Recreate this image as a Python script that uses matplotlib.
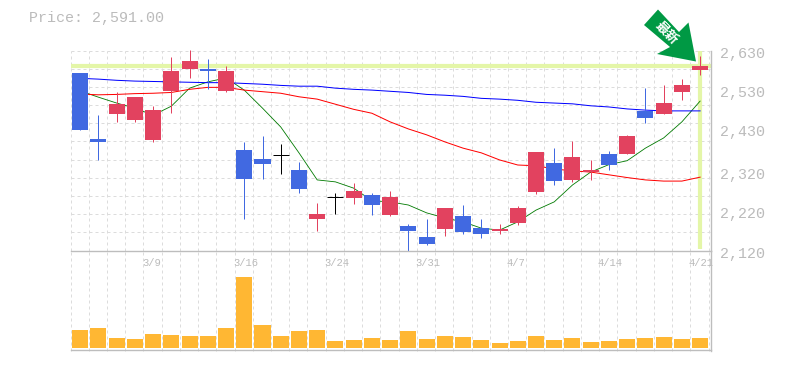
import numpy as np
import matplotlib
matplotlib.use('Agg')
from matplotlib import pyplot as plt
from matplotlib.patches import Polygon, Rectangle

# %%
# values
price_label = 'Price: 2,591.00'

opens = [2573, 2404, 2468, 2453, 2402, 2527, 2583, 2583, 2527, 2376, 2353, 2364, 2325, 2200, 2256, 2254, 2262, 2210,
         2183, 2154, 2175, 2208, 2177, 2170, 2190, 2269, 2343, 2300, 2320, 2366, 2366, 2476, 2468, 2524, 2580]
closes = [2427, 2397, 2494, 2511, 2478, 2578, 2603, 2578, 2578, 2302, 2341, 2364, 2277, 2213, 2256, 2272, 2236, 2256,
          2170, 2137, 2228, 2167, 2162, 2175, 2228, 2371, 2297, 2358, 2325, 2338, 2412, 2458, 2496, 2542, 2591]
highs = [2573, 2466, 2524, 2511, 2488, 2613, 2631, 2608, 2590, 2397, 2412, 2392, 2346, 2241, 2267, 2292, 2267, 2272,
         2188, 2200, 2228, 2236, 2200, 2188, 2233, 2371, 2381, 2399, 2351, 2374, 2414, 2534, 2542, 2557, 2616]
lows = [2427, 2351, 2448, 2448, 2397, 2471, 2560, 2532, 2524, 2200, 2302, 2315, 2267, 2170, 2213, 2239, 2210, 2208,
        2119, 2134, 2157, 2162, 2152, 2162, 2185, 2264, 2287, 2295, 2300, 2325, 2366, 2445, 2468, 2504, 2568]

ma_short = [2527, 2511, 2496, 2483, 2465, 2488, 2534, 2550, 2560, 2529, 2483, 2435, 2369, 2300, 2295, 2279, 2247, 2244,
            2236, 2216, 2203, 2193, 2177, 2172, 2193, 2223, 2244, 2287, 2320, 2339, 2349, 2381, 2407, 2448, 2501]
ma_mid = [2519, 2517, 2518, 2520, 2521, 2523, 2531, 2536, 2536, 2529, 2525, 2521, 2512, 2506, 2493, 2480, 2470, 2448,
          2430, 2415, 2397, 2381, 2369, 2351, 2338, 2336, 2328, 2323, 2320, 2313, 2306, 2300, 2297, 2297, 2307]
ma_long = [2559, 2557, 2554, 2552, 2551, 2550, 2549, 2548, 2548, 2546, 2544, 2541, 2539, 2539, 2534, 2531, 2529, 2526,
           2523, 2518, 2516, 2513, 2508, 2506, 2503, 2498, 2496, 2494, 2489, 2486, 2481, 2478, 2476, 2476, 2476]

volumes = [18, 20, 10, 9, 14, 13, 12, 12, 20, 71, 23, 12, 17, 18, 7, 8, 10, 8,
           17, 9, 12, 11, 8, 5, 7, 12, 8, 10, 6, 7, 9, 10, 11, 9, 10]

price_ticks = [2120, 2220, 2320, 2430, 2530, 2630]
price_tick_labels = ['2,120', '2,220', '2,320', '2,430', '2,530', '2,630']
date_pos = [4, 9, 14, 19, 24, 29, 34]
date_labels = ['3/9', '3/16', '3/24', '3/31', '4/7', '4/14', '4/21']

# %%
W, H = 785, 370
LEFT, RIGHT, TOP, MID, BOTTOM = 70.5, 710.5, 50.5, 250.5, 350.5
PX = 0.72  # one pixel in points at dpi 100
GRID = '#dcdcdc'
AXIS = '#bdbdbd'
TEXT = '#bbbbbb'
HILITE = '#e4f6a8'
RED = '#e2425f'
BLUE = '#4169e1'
FONT = 'Liberation Mono'

fig = plt.figure(figsize=(W / 100, H / 100), dpi=100)
ax = fig.add_axes([LEFT / W, 1 - MID / H, (RIGHT - LEFT) / W, (MID - TOP) / H])
ax_vol = fig.add_axes([LEFT / W, 1 - BOTTOM / H, (RIGHT - LEFT) / W, (BOTTOM - MID) / H])

xlim = (-0.53, 34.57)
grid_x = np.arange(36) * 18.23 / 18.235 - 0.53
ax.set_xlim(xlim)
ax.set_ylim(2120, 2630)
ax_vol.set_xlim(xlim)
ax_vol.set_ylim(-2.5, 98)

grid_y = np.linspace(2120, 2630, 12)
for a in (ax, ax_vol):
    for s in a.spines.values():
        s.set_visible(False)
    a.set_xticks([])
    a.set_yticks([])
    a.patch.set_alpha(0)
    for gx in grid_x:
        a.axvline(gx, color=GRID, lw=PX, ls=(0, (3, 3)), zorder=1, clip_on=False)
for gy in grid_y[1:]:
    ax.axhline(gy, color=GRID, lw=PX, ls=(0, (3, 3)), zorder=1, clip_on=False)

# current price cross
ax.axhline(closes[-1], color=HILITE, lw=3, zorder=2)
ax.plot([34, 34], [2125, 2630], color=HILITE, lw=3, zorder=2, solid_capstyle='butt')

x = np.arange(len(opens))
ax.plot(x, ma_short, color='#007a00', lw=0.6, zorder=3)
ax.plot(x, ma_mid, color='#ff0000', lw=PX, zorder=3)
ax.plot(x, ma_long, color='#0000ff', lw=PX, zorder=3)

for i in x:
    o, c = opens[i], closes[i]
    col = RED if c > o else BLUE if c < o else 'black'
    ax.plot([i, i], [lows[i], highs[i]], color=col, lw=PX, zorder=4, solid_capstyle='butt', clip_on=False)
    if c == o:
        ax.plot([i - 0.44, i + 0.44], [o, o], color=col, lw=PX, zorder=4, solid_capstyle='butt')
    else:
        ax.add_patch(Rectangle((i - 0.44, min(o, c)), 0.88, abs(c - o), color=col, lw=0, zorder=5, antialiased=False))

ax_vol.bar(x, volumes, width=0.88, color='#ffb733', lw=0, zorder=3, antialiased=False)

# axis lines
line_kw = dict(color=AXIS, lw=1, zorder=6, clip_on=False)
ax.axhline(2120, **line_kw)
ax_vol.axhline(ax_vol.get_ylim()[0], **line_kw)
ax.axvline(xlim[1], **line_kw)
ax_vol.axvline(xlim[1], **line_kw)

# texts
fig.text(29 / W, 1 - 18 / H, price_label, family=FONT, fontsize=10.8, color=TEXT, va='center', ha='left')
for t, lab in zip(price_ticks, price_tick_labels):
    ax.annotate(lab, (1, t), xycoords=('axes fraction', 'data'), xytext=(720 - RIGHT, -3), textcoords='offset pixels',
                family=FONT, fontsize=10.8, color=TEXT, va='center', ha='left', annotation_clip=False)
for p, lab in zip(date_pos, date_labels):
    ax_vol.annotate(lab, (p - 0.5, 1), xycoords=('data', 'axes fraction'), xytext=(-2, -12), textcoords='offset pixels',
                    family=FONT, fontsize=7.6, color=TEXT, va='center', ha='left', annotation_clip=False)

# arrow marker pointing at the latest candle
arrow_px = [(658, 9.5), (644, 25), (670, 47), (657, 54), (696, 61.5), (688.5, 22.5), (679, 32)]
fig.add_artist(Polygon([(px / W, 1 - py / H) for px, py in arrow_px], closed=True, transform=fig.transFigure,
                       facecolor='#009944', edgecolor='none', zorder=10))
fig.text(666.5 / W, 1 - 32.5 / H, '最新', family=['Noto Sans CJK JP', 'DejaVu Sans'], fontsize=9.5, fontweight='bold',
         color='white', rotation=-45, rotation_mode='anchor', ha='center', va='center', zorder=11)

fig.savefig('out.png', dpi=100, facecolor='white')
